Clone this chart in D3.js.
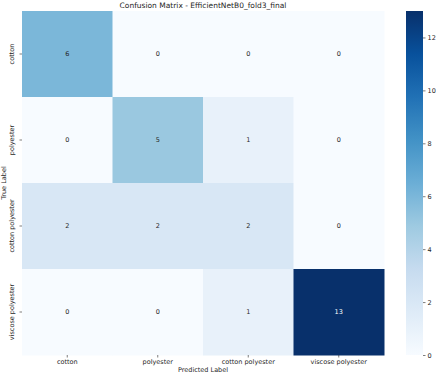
<!DOCTYPE html>
<html><head><meta charset="utf-8">
<script src="https://cdn.jsdelivr.net/npm/d3@7"></script>
<style>body{margin:0;background:#fff;}svg{display:block;font-family:"DejaVu Sans",sans-serif;}text{opacity:0.999;}</style>
</head><body><svg id="c" width="436" height="374"></svg>
<script>
const categories = ["cotton","polyester","cotton polyester","viscose polyester"];
const matrix = [
  [6,0,0,0],
  [0,5,1,0],
  [2,2,2,0],
  [0,0,1,13]
];
const cbTicks = [0,2,4,6,8,10,12];
const title = "Confusion Matrix - EfficientNetB0_fold3_final";
const vmin = 0, vmax = 13;

const svg = d3.select("#c");
const L = 22, R = 384, T = 11, B = 355;
const x = d3.scaleBand().domain(categories).range([L,R]);
const y = d3.scaleBand().domain(categories).range([T,B]);
const blues = ["#f7fbff","#deebf7","#c6dbef","#9ecae1","#6baed6","#4292c6","#2171b5","#08519c","#08306b"];
const color = d3.scaleLinear().domain(blues.map((d,i)=>vmin+(vmax-vmin)*i/(blues.length-1))).range(blues).clamp(true);

const cells = [];
matrix.forEach((row,i)=>row.forEach((v,j)=>cells.push({r:categories[i],c:categories[j],v})));
svg.append("g").selectAll("rect").data(cells).join("rect")
  .attr("x",d=>x(d.c)).attr("y",d=>y(d.r))
  .attr("width",x.bandwidth()+0.5).attr("height",y.bandwidth()+0.5)
  .attr("fill",d=>color(d.v));
svg.append("g").selectAll("text").data(cells).join("text")
  .attr("x",d=>x(d.c)+x.bandwidth()/2).attr("y",d=>y(d.r)+y.bandwidth()/2)
  .attr("text-anchor","middle").attr("dominant-baseline","central")
  .attr("font-size",6.5)
  .attr("fill",d=>{const c=d3.rgb(color(d.v));const l=(0.299*c.r+0.587*c.g+0.114*c.b)/255;return l<0.5?"#ffffff":"#262626";})
  .text(d=>d.v);

// x axis
const xa = svg.append("g").attr("transform",`translate(0,${B})`)
  .call(d3.axisBottom(x).tickSize(2.5).tickPadding(2));
xa.select(".domain").remove();
xa.selectAll("text").attr("font-size",6.5).attr("fill","#262626").attr("font-family","DejaVu Sans");
xa.selectAll("line").attr("stroke","#262626").attr("stroke-width",0.6);
// y axis
const ya = svg.append("g").attr("transform",`translate(${L},0)`)
  .call(d3.axisLeft(y).tickSize(2.5).tickPadding(2));
ya.select(".domain").remove();
ya.selectAll("line").attr("stroke","#262626").attr("stroke-width",0.6);
ya.selectAll("text").attr("font-size",6.5).attr("fill","#262626").attr("font-family","DejaVu Sans")
  .attr("text-anchor","middle").attr("dominant-baseline","auto")
  .attr("transform","translate(-8,0) rotate(-90)").attr("x",0).attr("dy",0);

svg.append("text").attr("x",(L+R)/2).attr("y",372).attr("text-anchor","middle")
  .attr("font-size",6.5).attr("fill","#262626").text("Predicted Label");
svg.append("text").attr("transform",`translate(6,${(T+B)/2}) rotate(-90)`).attr("text-anchor","middle")
  .attr("font-size",6.5).attr("fill","#262626").text("True Label");
svg.append("text").attr("x",(L+R)/2).attr("y",8).attr("text-anchor","middle")
  .attr("font-size",7.5).attr("fill","#262626").text(title);

// colorbar
const cbX = 406, cbW = 17;
const cy = d3.scaleLinear().domain([vmin,vmax]).range([B,T]);
const defs = svg.append("defs");
const grad = defs.append("linearGradient").attr("id","g").attr("x1",0).attr("y1",1).attr("x2",0).attr("y2",0);
blues.forEach((c,i)=>grad.append("stop").attr("offset",i/(blues.length-1)).attr("stop-color",c));
svg.append("rect").attr("x",cbX).attr("y",T).attr("width",cbW).attr("height",B-T).attr("fill","url(#g)");
const ca = svg.append("g").attr("transform",`translate(${cbX+cbW},0)`)
  .call(d3.axisRight(cy).tickValues(cbTicks).tickSize(2.5).tickPadding(2));
ca.select(".domain").remove();
ca.selectAll("line").attr("stroke","#262626").attr("stroke-width",0.6);
ca.selectAll("text").attr("font-size",6.5).attr("fill","#262626").attr("font-family","DejaVu Sans");
</script></body></html>
